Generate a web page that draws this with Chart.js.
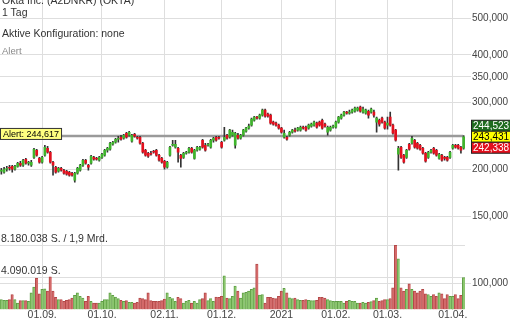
<!DOCTYPE html>
<html>
<head>
<meta charset="utf-8">
<script src="https://cdn.jsdelivr.net/npm/chart.js@4.4.1/dist/chart.umd.min.js"></script>
<style>
  html, body { margin: 0; padding: 0; background: #fff; }
  #wrap { position: relative; width: 510px; height: 320px; overflow: hidden; font-family: 'Liberation Sans', Arial, sans-serif; }
  #wrap canvas { position: absolute; left: 0; top: 0; }
  .hdr { position: absolute; left: 2px; font-size: 10.5px; line-height: 12px; color: #333; white-space: nowrap; }
</style>
</head>
<body>
<div id="wrap">
  <canvas id="chart" width="510" height="320"></canvas>
  <div class="hdr" style="top:-6px">Okta Inc. (A2DNKR) (OKTA)</div>
  <div class="hdr" style="top:6px">1 Tag</div>
  <div class="hdr" style="top:27px">Aktive Konfiguration: none</div>
  <div class="hdr" style="top:45px;font-size:9.5px;color:#888">Alert</div>
</div>
<script>
// Tageskerzen (Kurs in EUR)
const opens = [
  197.5, 196.3, 199.9, 202.3, 203.5, 199.9, 203.5, 207.3, 204.8, 212.4,
  207.3, 204.8, 214.9, 224.3, 213.6, 208.5, 217.6, 227.0, 221.6, 208.5,
  202.3, 197.5, 201.1, 198.7, 197.5, 196.3, 195.1, 187.0, 195.1, 198.7,
  204.8, 211.1, 204.8, 207.3, 214.9, 213.6, 211.1, 214.9, 217.6, 224.3,
  225.6, 232.6, 235.4, 239.8, 242.7, 241.2, 248.7, 245.7, 236.9, 247.2,
  242.7, 242.7, 234.0, 224.3, 220.2, 220.2, 222.9, 224.3, 217.6, 213.6,
  209.8, 202.3, 217.6, 231.2, 228.4, 227.0, 217.6, 214.9, 220.2, 221.6,
  227.0, 213.6, 224.3, 225.6, 238.3, 231.2, 231.2, 228.4, 238.3, 242.7,
  242.7, 235.4, 238.3, 245.7, 242.7, 245.7, 231.2, 245.7, 241.2, 245.7,
  251.7, 256.4, 261.1, 269.1, 274.1, 272.4, 277.4, 286.0, 279.1, 277.4,
  265.9, 264.3, 261.1, 256.4, 242.7, 242.7, 245.7, 250.2, 253.3, 253.3,
  253.3, 257.9, 257.9, 256.4, 259.5, 261.1, 264.3, 265.9, 269.1, 262.7,
  250.2, 253.3, 257.9, 257.9, 265.9, 272.4, 277.4, 282.5, 280.8, 282.5,
  284.2, 286.0, 291.2, 282.5, 280.8, 284.2, 282.5, 282.5, 265.9, 269.1,
  272.4, 265.9, 261.1, 274.1, 261.1, 253.3, 218.9, 228.4, 217.6, 214.9,
  232.6, 234.0, 238.3, 234.0, 231.2, 227.0, 220.2, 214.9, 221.6, 227.0,
  224.3, 213.6, 217.6, 214.9, 214.9, 214.9, 227.0, 231.2, 231.2, 228.4,
  227.0
]
const highs = [
  201.1, 202.3, 203.5, 204.8, 204.8, 204.8, 208.5, 209.8, 212.4, 213.6,
  209.8, 211.1, 227.0, 225.6, 214.9, 216.3, 231.2, 229.8, 222.9, 209.8,
  203.5, 202.3, 202.3, 199.9, 198.7, 197.5, 196.3, 196.3, 202.3, 206.0,
  212.4, 212.4, 206.0, 217.6, 216.3, 214.9, 216.3, 220.2, 225.6, 228.4,
  235.4, 236.9, 241.2, 244.2, 245.7, 247.2, 250.2, 251.7, 247.2, 248.7,
  244.2, 244.2, 235.4, 225.6, 221.6, 222.9, 224.3, 225.6, 218.9, 214.9,
  211.1, 209.8, 229.8, 238.3, 238.3, 228.4, 218.9, 221.6, 222.9, 228.4,
  228.4, 225.6, 229.8, 229.8, 239.8, 234.0, 234.0, 239.8, 242.7, 244.2,
  244.2, 236.9, 257.9, 247.2, 254.8, 253.3, 250.2, 248.7, 247.2, 254.8,
  257.9, 262.7, 272.4, 275.7, 275.7, 279.1, 287.7, 287.7, 280.8, 279.1,
  267.5, 265.9, 262.7, 257.9, 253.3, 244.2, 251.7, 254.8, 256.4, 257.9,
  259.5, 259.5, 259.5, 262.7, 264.3, 267.5, 265.9, 267.5, 270.8, 264.3,
  259.5, 259.5, 261.1, 267.5, 275.7, 279.1, 284.2, 284.2, 286.0, 287.7,
  291.2, 291.2, 293.0, 291.2, 287.7, 286.0, 289.5, 286.0, 274.1, 270.8,
  274.1, 267.5, 274.1, 282.5, 262.7, 254.8, 229.8, 229.8, 218.9, 225.6,
  234.0, 244.2, 239.8, 235.4, 232.6, 228.4, 221.6, 222.9, 225.6, 228.4,
  225.6, 220.2, 218.9, 216.3, 216.3, 222.9, 232.6, 232.6, 232.6, 229.8,
  245.2
]
const lows = [
  193.9, 195.1, 197.5, 198.7, 196.3, 198.7, 202.3, 203.5, 203.5, 206.0,
  204.8, 203.5, 213.6, 216.3, 207.3, 207.3, 216.3, 220.2, 207.3, 192.7,
  195.1, 196.3, 197.5, 193.9, 192.7, 191.6, 191.6, 184.7, 193.9, 197.5,
  203.5, 206.0, 198.7, 206.0, 211.1, 211.1, 209.8, 213.6, 216.3, 221.6,
  224.3, 231.2, 234.0, 235.4, 238.3, 239.8, 241.2, 244.2, 235.4, 242.7,
  239.8, 232.6, 220.2, 216.3, 214.9, 217.6, 220.2, 216.3, 209.8, 207.3,
  199.9, 201.1, 216.3, 229.8, 227.0, 208.5, 202.3, 213.6, 218.9, 220.2,
  220.2, 212.4, 222.9, 224.3, 227.0, 222.9, 229.8, 227.0, 235.4, 236.9,
  239.8, 227.0, 236.9, 239.8, 241.2, 244.2, 227.0, 239.8, 239.8, 244.2,
  250.2, 254.8, 259.5, 267.5, 270.8, 270.8, 275.7, 274.1, 274.1, 262.7,
  261.1, 259.5, 254.8, 248.7, 241.2, 238.3, 244.2, 248.7, 250.2, 251.7,
  251.7, 254.8, 251.7, 254.8, 257.9, 259.5, 256.4, 259.5, 254.8, 257.9,
  245.7, 251.7, 256.4, 256.4, 264.3, 270.8, 275.7, 279.1, 279.1, 280.8,
  282.5, 284.2, 282.5, 280.8, 279.1, 272.4, 280.8, 274.1, 250.2, 259.5,
  264.3, 254.8, 254.8, 259.5, 247.2, 236.9, 198.7, 213.6, 207.3, 213.6,
  224.3, 232.6, 227.0, 225.6, 224.3, 218.9, 208.5, 213.6, 220.2, 218.9,
  216.3, 212.4, 209.8, 211.1, 209.8, 213.6, 225.6, 227.0, 225.6, 220.2,
  225.6
]
const closes = [
  198.7, 199.9, 201.1, 201.1, 199.9, 203.5, 207.3, 204.8, 211.1, 207.3,
  208.5, 208.5, 225.6, 217.6, 208.5, 214.9, 228.4, 221.6, 208.5, 204.8,
  196.3, 201.1, 198.7, 195.1, 193.9, 192.7, 192.7, 195.1, 201.1, 204.8,
  211.1, 207.3, 202.3, 216.3, 212.4, 212.4, 214.9, 218.9, 224.3, 227.0,
  234.0, 235.4, 239.8, 241.2, 239.8, 245.7, 242.7, 250.2, 245.7, 244.2,
  241.2, 234.0, 221.6, 217.6, 216.3, 218.9, 221.6, 217.6, 211.1, 208.5,
  202.3, 208.5, 228.4, 232.6, 232.6, 221.6, 213.6, 220.2, 221.6, 227.0,
  221.6, 224.3, 228.4, 228.4, 228.4, 224.3, 232.6, 238.3, 241.2, 238.3,
  241.2, 228.4, 242.7, 241.2, 253.3, 250.2, 248.7, 241.2, 245.7, 253.3,
  256.4, 259.5, 270.8, 274.1, 272.4, 277.4, 286.0, 275.7, 275.7, 264.3,
  262.7, 261.1, 256.4, 250.2, 248.7, 239.8, 250.2, 253.3, 251.7, 256.4,
  257.9, 256.4, 253.3, 261.1, 262.7, 265.9, 257.9, 261.1, 256.4, 259.5,
  257.9, 257.9, 259.5, 265.9, 274.1, 277.4, 282.5, 280.8, 282.5, 286.0,
  289.5, 289.5, 284.2, 287.7, 286.0, 277.4, 287.7, 277.4, 272.4, 262.7,
  265.9, 256.4, 264.3, 261.1, 248.7, 238.3, 227.0, 214.9, 208.5, 224.3,
  225.6, 241.2, 228.4, 227.0, 225.6, 220.2, 209.8, 221.6, 224.3, 220.2,
  217.6, 218.9, 211.1, 213.6, 211.1, 221.6, 231.2, 228.4, 227.0, 224.3,
  243.431
]
// Umsatz in Mio. Stück
const volumes = [
  1.26, 1.17, 1.17, 1.26, 1.91, 1.26, 0.82, 1.13, 1.13, 1.13,
  1.04, 2.12, 2.86, 3.99, 1.99, 2.56, 2.64, 2.34, 4.16, 2.34,
  1.56, 1.26, 1.26, 1.04, 1.17, 1.26, 1.47, 1.82, 2.12, 1.69,
  1.47, 1.04, 1.69, 1.04, 0.82, 0.82, 0.82, 1.04, 1.26, 1.26,
  2.12, 1.82, 1.60, 1.39, 1.17, 1.04, 1.13, 0.91, 0.91, 0.82,
  0.91, 1.47, 1.39, 1.26, 2.12, 1.13, 1.04, 1.04, 1.04, 1.13,
  1.34, 2.12, 1.56, 1.39, 1.04, 1.56, 1.39, 0.82, 1.04, 1.17,
  0.82, 1.04, 0.82, 1.26, 1.39, 2.12, 1.13, 1.39, 1.04, 1.60,
  1.56, 1.69, 4.29, 1.47, 1.39, 1.69, 2.99, 2.34, 1.47, 2.12,
  2.20, 2.34, 2.56, 2.77, 5.81, 1.85, 1.91, 0.82, 1.56, 1.56,
  1.47, 1.39, 1.69, 2.34, 2.69, 2.12, 1.50, 1.39, 1.47, 1.26,
  1.17, 1.17, 1.26, 1.17, 1.13, 1.13, 1.17, 1.56, 1.56, 1.47,
  1.26, 1.13, 1.04, 1.04, 1.04, 1.04, 0.82, 1.04, 1.17, 1.04,
  1.04, 0.82, 0.82, 0.91, 0.82, 0.91, 1.00, 1.13, 1.47, 1.04,
  1.13, 1.26, 1.26, 1.40, 2.77, 8.180038, 6.46, 2.77, 2.34, 2.56,
  3.29, 2.56, 2.34, 2.12, 2.34, 2.56, 2.00, 1.91, 1.69, 1.91,
  1.69, 2.12, 1.99, 1.39, 1.91, 1.69, 1.69, 1.91, 1.39, 1.82,
  4.07
]

const monthIndex = [15, 37, 60, 81, 103, 123, 142, 166]
const monthLabels = ['01.09.', '01.10.', '02.11.', '01.12.', '2021', '01.02.', '01.03.', '01.04.']
const priceTicks = [100, 150, 200, 300, 350, 400, 500]
const volTicks = [4.090019, 8.180038]
const volLabels = ['4.090.019 S.', '8.180.038 S. / 1,9 Mrd.']
const alertLevel = 244.617
const quoteValues = [244.523, 243.431, 242.338]

const FONT = "'Liberation Sans', Arial, sans-serif"
const GRID = '#dedede'

const days = closes.map((c, i) => i)
const up = closes.map((c, i) => c >= opens[i])
const fmt = (v) => v.toFixed(3).replace('.', ',')

// Alert-Linie, Volumen-Beschriftung und Kursboxen
const overlay = {
  id: 'overlay',
  beforeDatasetsDraw(chart) {
    const { ctx, chartArea: a, scales } = chart
    const y = scales.y.getPixelForValue(alertLevel)
    ctx.save()
    ctx.strokeStyle = '#9a9a9a'
    ctx.lineWidth = 2.5
    ctx.beginPath()
    ctx.moveTo(a.left, y)
    ctx.lineTo(a.right - 2, y)
    ctx.stroke()
    ctx.restore()
  },
  afterDatasetsDraw(chart) {
    const { ctx, scales } = chart
    ctx.save()
    ctx.font = '10.5px ' + FONT
    ctx.fillStyle = '#333'
    ctx.textBaseline = 'bottom'
    volTicks.forEach((v, i) => {
      ctx.fillText(volLabels[i], 1, scales.yVol.getPixelForValue(v) - 1)
    })
    // Alert-Box
    ctx.font = '9px ' + FONT
    const y = scales.y.getPixelForValue(alertLevel)
    const txt = 'Alert: ' + fmt(alertLevel)
    const w = ctx.measureText(txt).width + 5
    ctx.fillStyle = '#ffff80'
    ctx.fillRect(0.5, y - 7.5, w, 11)
    ctx.strokeStyle = '#333'
    ctx.lineWidth = 1
    ctx.strokeRect(0.5, y - 7.5, w, 11)
    ctx.fillStyle = '#000'
    ctx.textBaseline = 'middle'
    ctx.fillText(txt, 3, y - 1.5)
    ctx.restore()
  },
  afterDraw(chart) {
    const { ctx, scales } = chart
    const yc = scales.y.getPixelForValue(quoteValues[1])
    const h = 11
    const styles = [
      { bg: '#1f6b1f', fg: '#fff' },
      { bg: '#ffff00', fg: '#000' },
      { bg: '#e3101e', fg: '#fff' },
    ]
    ctx.save()
    ctx.font = '10px ' + FONT
    ctx.textBaseline = 'middle'
    quoteValues.forEach((v, i) => {
      const top = yc - h / 2 + (i - 1) * h
      ctx.fillStyle = styles[i].bg
      ctx.fillRect(471.5, top, 40, h)
      ctx.strokeStyle = '#222'
      ctx.lineWidth = 1
      ctx.strokeRect(471.5, top, 40, h)
      ctx.fillStyle = styles[i].fg
      ctx.fillText(fmt(v), 473, top + h / 2 + 0.5)
    })
    ctx.restore()
  },
}

new Chart(document.getElementById('chart'), {
  data: {
    labels: days,
    datasets: [
      {
        type: 'bar',
        label: 'Volumen',
        data: volumes,
        yAxisID: 'yVol',
        grouped: false,
        order: 3,
        backgroundColor: up.map((u) => (u ? '#8cc66f' : '#d46a6a')),
        borderColor: up.map((u) => (u ? '#5f9f45' : '#b34848')),
        borderWidth: { left: 1, top: 1, right: 0, bottom: 0 },
        barPercentage: 1,
        categoryPercentage: 1,
      },
      {
        type: 'bar',
        label: 'Docht',
        data: days.map((i) => [lows[i], highs[i]]),
        yAxisID: 'y',
        grouped: false,
        order: 2,
        backgroundColor: '#333',
        barThickness: 1,
      },
      {
        type: 'bar',
        label: 'Kerze',
        data: days.map((i) => [opens[i], closes[i]]),
        yAxisID: 'y',
        grouped: false,
        order: 1,
        backgroundColor: up.map((u) => (u ? '#3fb52c' : '#e3101e')),
        barThickness: 2,
        minBarLength: 1,
      },
    ],
  },
  options: {
    responsive: false,
    animation: false,
    devicePixelRatio: 1,
    layout: { padding: 0 },
    plugins: { legend: { display: false }, tooltip: { enabled: false } },
    scales: {
      x: {
        type: 'category',
        offset: true,
        grid: {
          offset: false,
          drawTicks: false,
          color: (c) => (monthIndex.includes(c.index) ? GRID : 'rgba(0,0,0,0)'),
        },
        border: { display: false },
        ticks: {
          autoSkip: false,
          maxRotation: 0,
          padding: 0,
          color: '#444',
          font: { size: 10.5, family: FONT, lineHeight: 1 },
          callback: (v, i) => {
            const k = monthIndex.indexOf(i)
            return k >= 0 ? monthLabels[k] : ''
          },
        },
      },
      y: {
        type: 'logarithmic',
        position: 'right',
        min: 85.4,
        max: 557.8,
        afterBuildTicks: (s) => {
          s.ticks = priceTicks.map((v) => ({ value: v }))
        },
        afterFit: (s) => {
          s.width = 45
          s.paddingTop = 0
          s.paddingBottom = 0
        },
        grid: { color: GRID, tickLength: 6 },
        border: { display: false },
        ticks: {
          padding: 1,
          color: '#444',
          font: { size: 10, family: FONT },
          callback: (v) => fmt(v),
        },
      },
      yVol: {
        type: 'linear',
        position: 'left',
        min: 0,
        max: 39.5,
        afterBuildTicks: (s) => {
          s.ticks = volTicks.map((v) => ({ value: v }))
        },
        afterFit: (s) => {
          s.width = 0
          s.paddingTop = 0
          s.paddingBottom = 0
        },
        grid: { color: GRID, drawTicks: false },
        border: { display: false },
        ticks: { display: false },
      },
    },
  },
  plugins: [overlay],
})
</script>
</body>
</html>
